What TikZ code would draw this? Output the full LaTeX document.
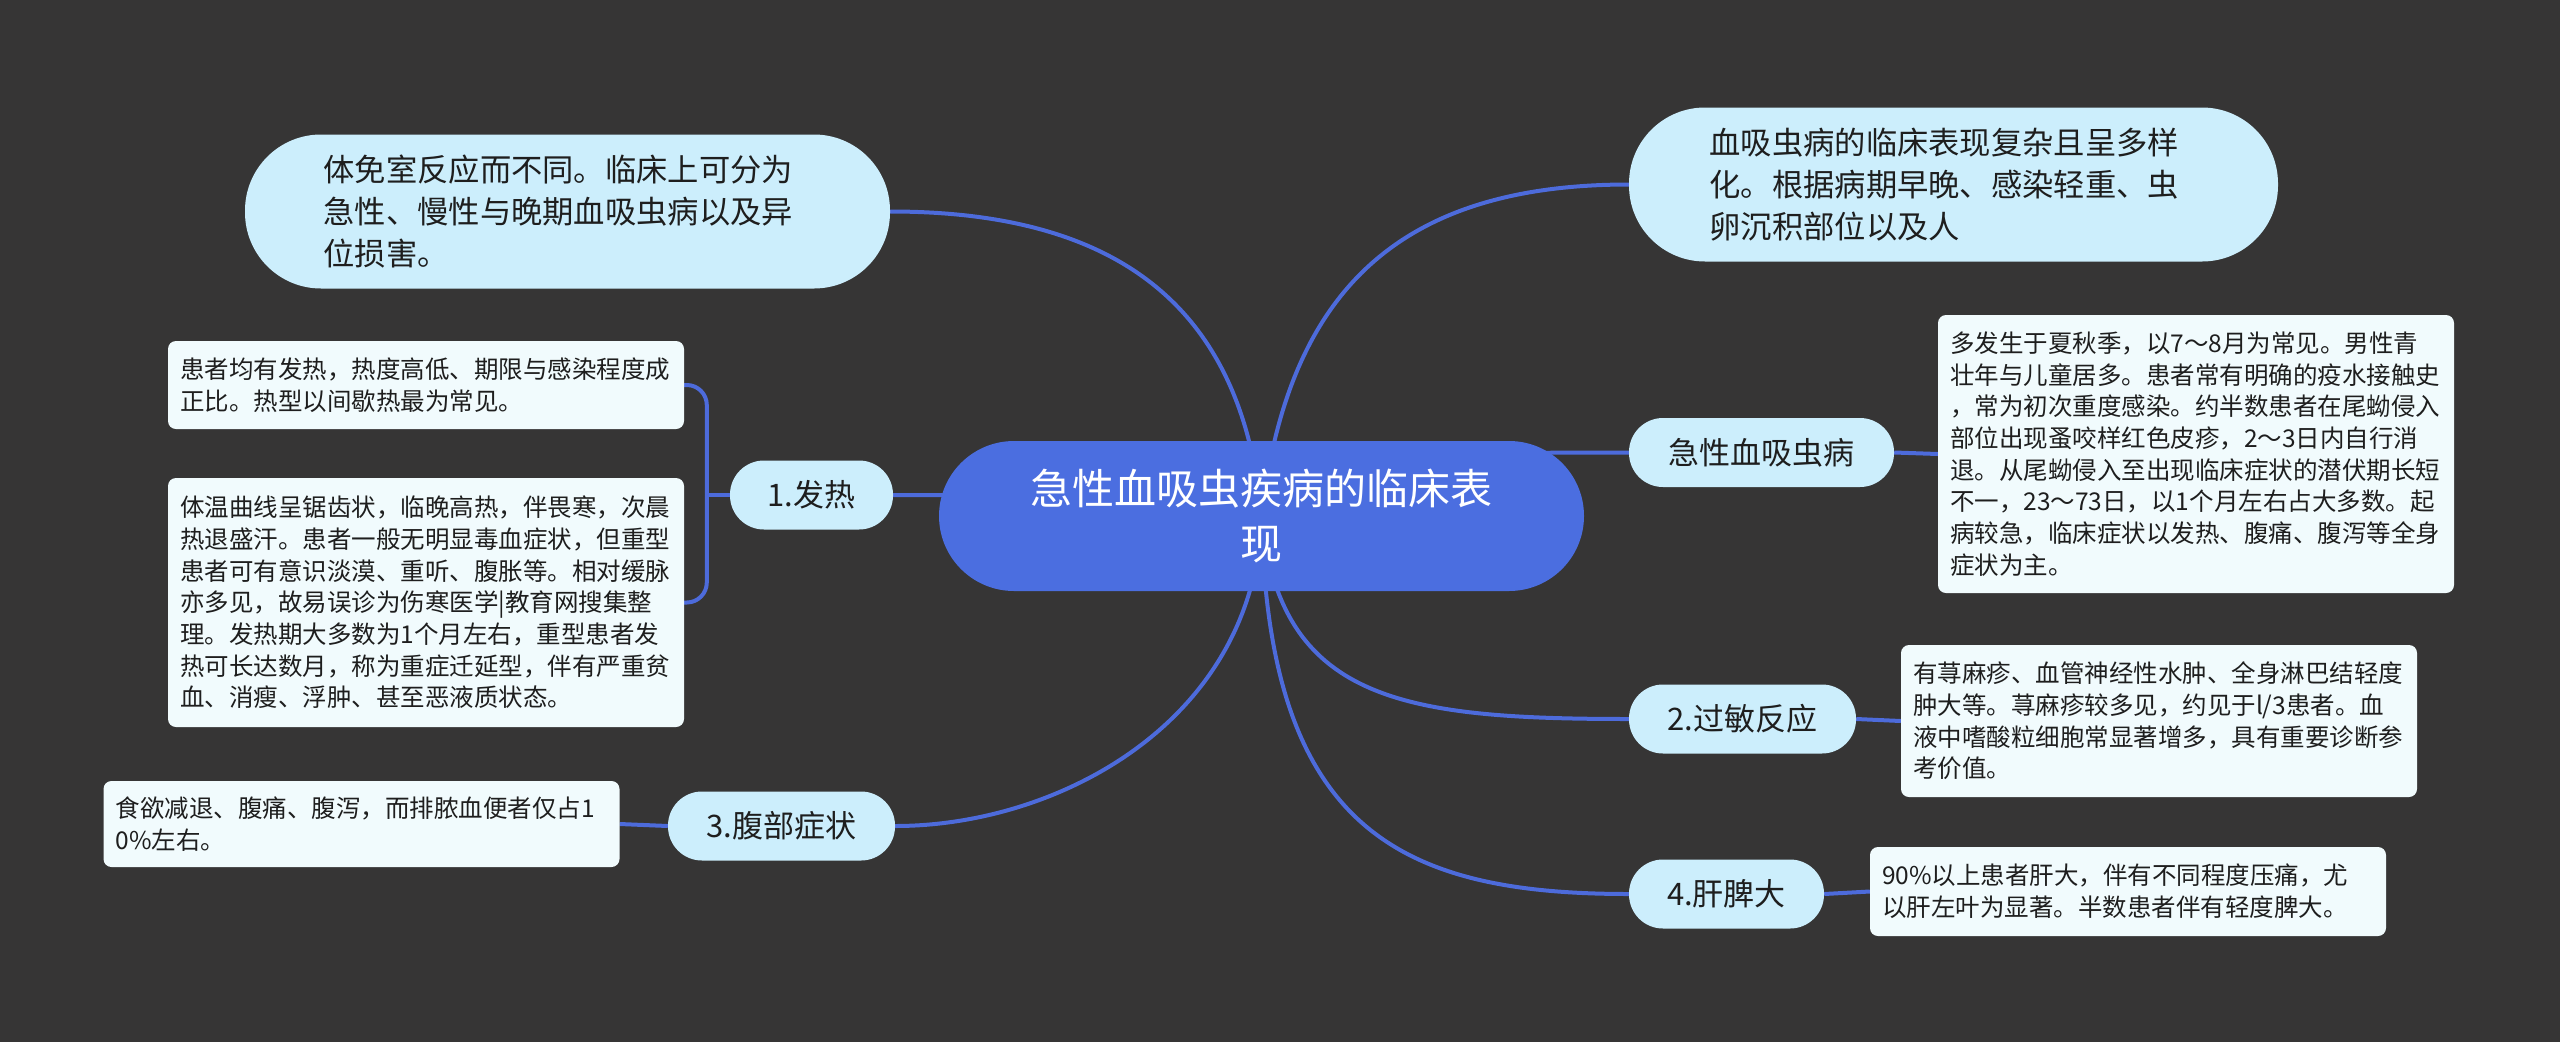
\documentclass[tikz,border=0pt]{standalone}
\usepackage{fontspec}
\setmainfont{Noto Sans CJK SC}
\usetikzlibrary{backgrounds}
\definecolor{bgc}{HTML}{363535}
\definecolor{cfill}{HTML}{4B6EE0}
\definecolor{bfill}{HTML}{CCEEFC}
\definecolor{lfill}{HTML}{F1FBFD}
\definecolor{lnc}{HTML}{4D6BDB}
\definecolor{txt}{HTML}{1E1E1E}
\tikzset{
 centernode/.style={fill=cfill, rounded corners=75pt, minimum width=645pt, minimum height=150pt, inner sep=0pt, text=white, align=center, font=\fontsize{42}{55}\selectfont},
 bubble/.style={fill=bfill, rounded corners=76pt, minimum height=154pt, inner sep=0pt, text=txt, align=left, text width=488pt, font=\fontsize{31.3}{42}\selectfont},
 branch/.style={fill=bfill, rounded corners=34pt, minimum height=69pt, inner sep=0pt, text=txt, font=\fontsize{31}{38}\selectfont},
 leaf/.style={fill=lfill, rounded corners=8pt, minimum width=516pt, inner xsep=12pt, inner ysep=0pt, text width=492pt, align=left, text=txt, font=\fontsize{24.5}{31.7}\selectfont},
 conn/.style={draw=lnc, line width=4pt},
}
\begin{document}
\begin{tikzpicture}[x=1pt,y=-1pt]
\begin{scope}[on background layer]
\fill[bgc] (0,0) rectangle (2560,1042);
\end{scope}
\useasboundingbox (0,0) rectangle (2560,1042);

% central
\node[centernode] (c) at (1261.5,516) {急性血吸虫疾病的临床表\\现};

% top bubbles
\node[bubble, minimum width=645pt] (tl) at (567.5,211.5) {体免室反应而不同。临床上可分为\\急性、慢性与晚期血吸虫病以及异\\位损害。};
\node[bubble, minimum width=649pt] (tr) at (1953.5,184.5) {血吸虫病的临床表现复杂且呈多样\\化。根据病期早晚、感染轻重、虫\\卵沉积部位以及人};

% branches
\node[branch, minimum width=163pt] (fa) at (811.5,495) {1.发热};
\node[branch, minimum width=227pt] (fb) at (781.5,826) {3.腹部症状};
\node[branch, minimum width=265pt] (fc) at (1761.5,452.5) {急性血吸虫病};
\node[branch, minimum width=227pt] (fd) at (1742.5,719) {2.过敏反应};
\node[branch, minimum width=195pt] (fe) at (1726.5,894) {4.肝脾大};

% leaves
\node[leaf, minimum height=88pt] (la1) at (426,385) {患者均有发热，热度高低、期限与感染程度成\\正比。热型以间歇热最为常见。};
\node[leaf, minimum height=249pt] (la2) at (426,602.5) {体温曲线呈锯齿状，临晚高热，伴畏寒，次晨\\热退盛汗。患者一般无明显毒血症状，但重型\\患者可有意识淡漠、重听、腹胀等。相对缓脉\\亦多见，故易误诊为伤寒医学|教育网搜集整\\理。发热期大多数为1个月左右，重型患者发\\热可长达数月，称为重症迁延型，伴有严重贫\\血、消瘦、浮肿、甚至恶液质状态。};
\node[leaf, minimum height=86pt] (lb) at (361.5,824) {食欲减退、腹痛、腹泻，而排脓血便者仅占1\\0\%左右。};
\node[leaf, minimum height=278pt] (lc) at (2196,454) {多发生于夏秋季，以7～8月为常见。男性青\\壮年与儿童居多。患者常有明确的疫水接触史\\，常为初次重度感染。约半数患者在尾蚴侵入\\部位出现蚤咬样红色皮疹，2～3日内自行消\\退。从尾蚴侵入至出现临床症状的潜伏期长短\\不一，23～73日，以1个月左右占大多数。起\\病较急，临床症状以发热、腹痛、腹泻等全身\\症状为主。};
\node[leaf, minimum height=152pt] (ld) at (2159,721) {有荨麻疹、血管神经性水肿、全身淋巴结轻度\\肿大等。荨麻疹较多见，约见于l/3患者。血\\液中嗜酸粒细胞常显著增多，具有重要诊断参\\考价值。};
\node[leaf, minimum height=89pt] (le) at (2128,891.5) {90\%以上患者肝大，伴有不同程度压痛，尤\\以肝左叶为显著。半数患者伴有轻度脾大。};

\begin{scope}[on background layer]
% center connectors
\draw[conn] (c.center) .. controls (1242,300) and (1110,211.5) .. (tl.east);
\draw[conn] (c.center) .. controls (1288,290) and (1400,184.5) .. (tr.west);
\draw[conn] (c.center) .. controls (1350,452.5) and (1450,452.5) .. (fc.west);
\draw[conn] (c.center) .. controls (1150,495) and (1000,495) .. (fa.east);
\draw[conn] (c.center) .. controls (1280,700) and (1400,719) .. (fd.west);
\draw[conn] (c.center) .. controls (1268,830) and (1400,894) .. (fe.west);
\draw[conn] (c.center) .. controls (1255,720) and (1060,826) .. (fb.east);
% leaf connectors
\draw[conn] (fa.west) -- ++(-23,0) coordinate (fj);
\draw[conn, rounded corners=20pt] (fj) |- (la1.east);
\draw[conn, rounded corners=20pt] (fj) |- (la2.east);
\draw[conn] (fb.west) -- (lb.east);
\draw[conn] (fc.east) -- (lc.west);
\draw[conn] (fd.east) -- (ld.west);
\draw[conn] (fe.east) -- (le.west);
\end{scope}
\end{tikzpicture}
\end{document}
